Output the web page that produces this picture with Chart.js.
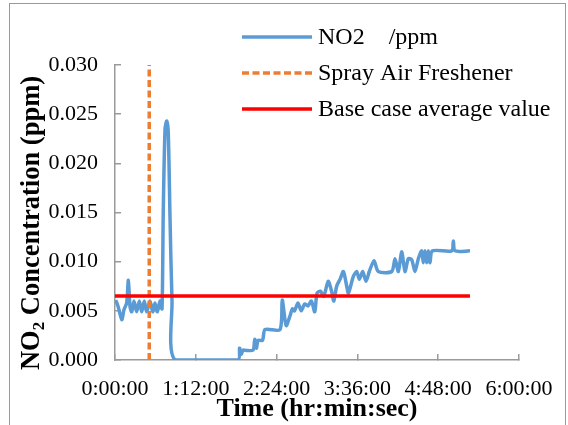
<!DOCTYPE html>
<html>
<head>
<meta charset="utf-8">
<script src="https://cdn.jsdelivr.net/npm/chart.js@4.4.0/dist/chart.umd.min.js"></script>
<style>
  html, body { margin: 0; padding: 0; background: #fff; }
  #wrap { width: 568px; height: 425px; position: relative; }
</style>
</head>
<body>
<div id="wrap"><canvas id="no2Chart" width="568" height="425"></canvas></div>
<script>
// --- data (time in minutes since start) ---
const timeMin = [0.6, 2.9, 6.0, 8.0, 10.4, 11.9, 13.4, 14.9, 16.9, 19.3, 21.7, 23.8, 26.1, 28.2, 31.2, 33.6,
  35.6, 37.7, 40.1, 41.9, 43.0, 44.6, 46.1, 47.5, 49.0, 50.8, 53.5, 109.6, 111.0, 112.5, 114.0, 115.5,
  123.0, 124.5, 126.0, 127.5, 131.5, 133.7, 147.0, 149.0, 152.5, 156.0, 158.0, 160.0, 163.0, 166.0,
  169.0, 172.0, 175.0, 178.0, 180.0, 183.0, 186.0, 190.0, 193.0, 195.0, 197.5, 200.5, 203.5, 206.5,
  208.0, 212.4, 215.4, 217.7, 220.7, 223.7, 226.6, 230.8, 234.6, 246.6, 249.5, 252.5, 255.5, 258.4,
  261.4, 264.4, 267.3, 270.3, 273.3, 274.7, 276.2, 277.7, 279.2, 280.7, 282.8, 300.0, 301.5, 303.0, 316.3];
const no2Ppm = [0.0061, 0.0054, 0.0041, 0.0051, 0.0058, 0.0081, 0.0054, 0.0049, 0.0060, 0.0049, 0.0060, 0.0049, 0.0060, 0.0049, 0.0060, 0.0049,
  0.0058, 0.0049, 0.0060, 0.0052, 0.0150, 0.0235, 0.0243, 0.0230, 0.0146, 0.0060, 0.0000, 0.0000, 0.0012, 0.0006, 0.0010, 0.0010,
  0.0010, 0.0021, 0.0012, 0.0020, 0.0020, 0.0031, 0.0031, 0.0061, 0.0035, 0.0045, 0.0052, 0.0050, 0.0058, 0.0050,
  0.0057, 0.0055, 0.0060, 0.0049, 0.0068, 0.0070, 0.0065, 0.0080, 0.0070, 0.0060, 0.0075, 0.0082, 0.0090, 0.0075,
  0.0068, 0.0085, 0.0090, 0.0082, 0.0090, 0.0080, 0.0090, 0.0101, 0.0090, 0.0090, 0.0103, 0.0090, 0.0110, 0.0090,
  0.0103, 0.0102, 0.0090, 0.0103, 0.0111, 0.0099, 0.0111, 0.0099, 0.0111, 0.0099, 0.0111, 0.0111, 0.0121, 0.0111, 0.0111];
const sprayTime = [30.5, 30.5];
const sprayLevel = [0, 0.03];
const baseTime = [0, 316.3];
const baseLevel = [0.0065, 0.0065];
const xTickStep = 72;   // 1:12:00
const yTickStep = 0.005;

const serif = '"Liberation Serif", "Times New Roman", serif';
const axisGray = '#9a9a9a';

function toPoints(xs, ys) {
  return xs.map((x, i) => ({ x: x, y: ys[i] }));
}

function fmtTime(min) {
  let h = Math.floor(min / 60);
  let m = Math.round(min % 60);
  return h + ':' + String(m).padStart(2, '0') + ':00';
}

// legend + y title (with subscript) + outer frame
const decorPlugin = {
  id: 'decor',
  afterDraw(chart) {
    let ctx = chart.ctx;
    ctx.save();
    // frame
    ctx.strokeStyle = axisGray;
    ctx.lineWidth = 1;
    ctx.strokeRect(9.5, 3.5, 556, 440);

    // legend
    let rows = [37, 73, 109];
    ctx.font = '24px ' + serif;
    ctx.textBaseline = 'middle';
    ctx.fillStyle = '#000';
    chart.data.datasets.forEach((ds, r) => {
      ctx.beginPath();
      ctx.setLineDash(ds.borderDash || []);
      ctx.strokeStyle = ds.borderColor;
      ctx.lineWidth = ds.borderWidth;
      ctx.moveTo(242, rows[r]);
      ctx.lineTo(312, rows[r]);
      ctx.stroke();
      ctx.setLineDash([]);
      ctx.fillText(ds.label, 318, rows[r] + 1);
    });

    // y axis title: NO2 Concentration (ppm) with subscript 2
    ctx.translate(30, 223);
    ctx.rotate(-Math.PI / 2);
    let big = 'bold 26.5px ' + serif;
    let small = 'bold 17px ' + serif;
    ctx.textBaseline = 'alphabetic';
    ctx.font = big;
    let wa = ctx.measureText('NO').width;
    let wc = ctx.measureText(' Concentration (ppm)').width;
    ctx.font = small;
    let wb = ctx.measureText('2').width;
    let x0 = -(wa + wb + wc) / 2;
    ctx.font = big;
    ctx.fillText('NO', x0, 9);
    ctx.font = small;
    ctx.fillText('2', x0 + wa, 14);
    ctx.font = big;
    ctx.fillText(' Concentration (ppm)', x0 + wa + wb, 9);
    ctx.restore();
  }
};

new Chart(document.getElementById('no2Chart'), {
  type: 'line',
  data: {
    datasets: [
      {
        label: 'NO2    /ppm',
        data: toPoints(timeMin, no2Ppm),
        borderColor: '#5B9BD5',
        borderWidth: 3.5,
        tension: 0.25,
        order: 2
      },
      {
        label: 'Spray Air Freshener',
        data: toPoints(sprayTime, sprayLevel),
        borderColor: '#ED7D31',
        borderWidth: 3.5,
        borderDash: [7, 3.5],
        order: 1
      },
      {
        label: 'Base case average value',
        data: toPoints(baseTime, baseLevel),
        borderColor: '#FF0000',
        borderWidth: 3.5,
        order: 0
      }
    ]
  },
  options: {
    responsive: false,
    animation: false,
    layout: { padding: { top: 65, right: 49, left: 0, bottom: 0 } },
    elements: { point: { radius: 0 } },
    plugins: { legend: { display: false }, tooltip: { enabled: false } },
    scales: {
      x: {
        type: 'linear',
        min: 0,
        max: 360,
        border: { color: axisGray, width: 1.5 },
        grid: { drawOnChartArea: false, drawTicks: true, tickLength: -6, color: axisGray, lineWidth: 1.5 },
        ticks: {
          stepSize: xTickStep,
          padding: 22,
          autoSkip: false,
          maxRotation: 0,
          color: '#000',
          font: { family: serif, size: 22 },
          callback: v => fmtTime(v)
        },
        title: {
          display: true,
          text: 'Time (hr:min:sec)',
          color: '#000',
          font: { family: serif, size: 26, weight: 'bold' },
          padding: { top: 0, bottom: 0 }
        },
        afterFit: s => { s.height = 65; s.paddingLeft = 0; s.paddingRight = 0; }
      },
      y: {
        min: 0,
        max: 0.03,
        border: { color: axisGray, width: 1.5 },
        grid: { drawOnChartArea: false, drawTicks: true, tickLength: -6, color: axisGray, lineWidth: 1.5 },
        ticks: {
          stepSize: yTickStep,
          padding: 23,
          color: '#000',
          font: { family: serif, size: 22 },
          callback: v => v.toFixed(3)
        },
        afterFit: s => { s.width = 115; s.paddingTop = 0; s.paddingBottom = 0; }
      }
    }
  },
  plugins: [decorPlugin]
});
</script>
</body>
</html>
